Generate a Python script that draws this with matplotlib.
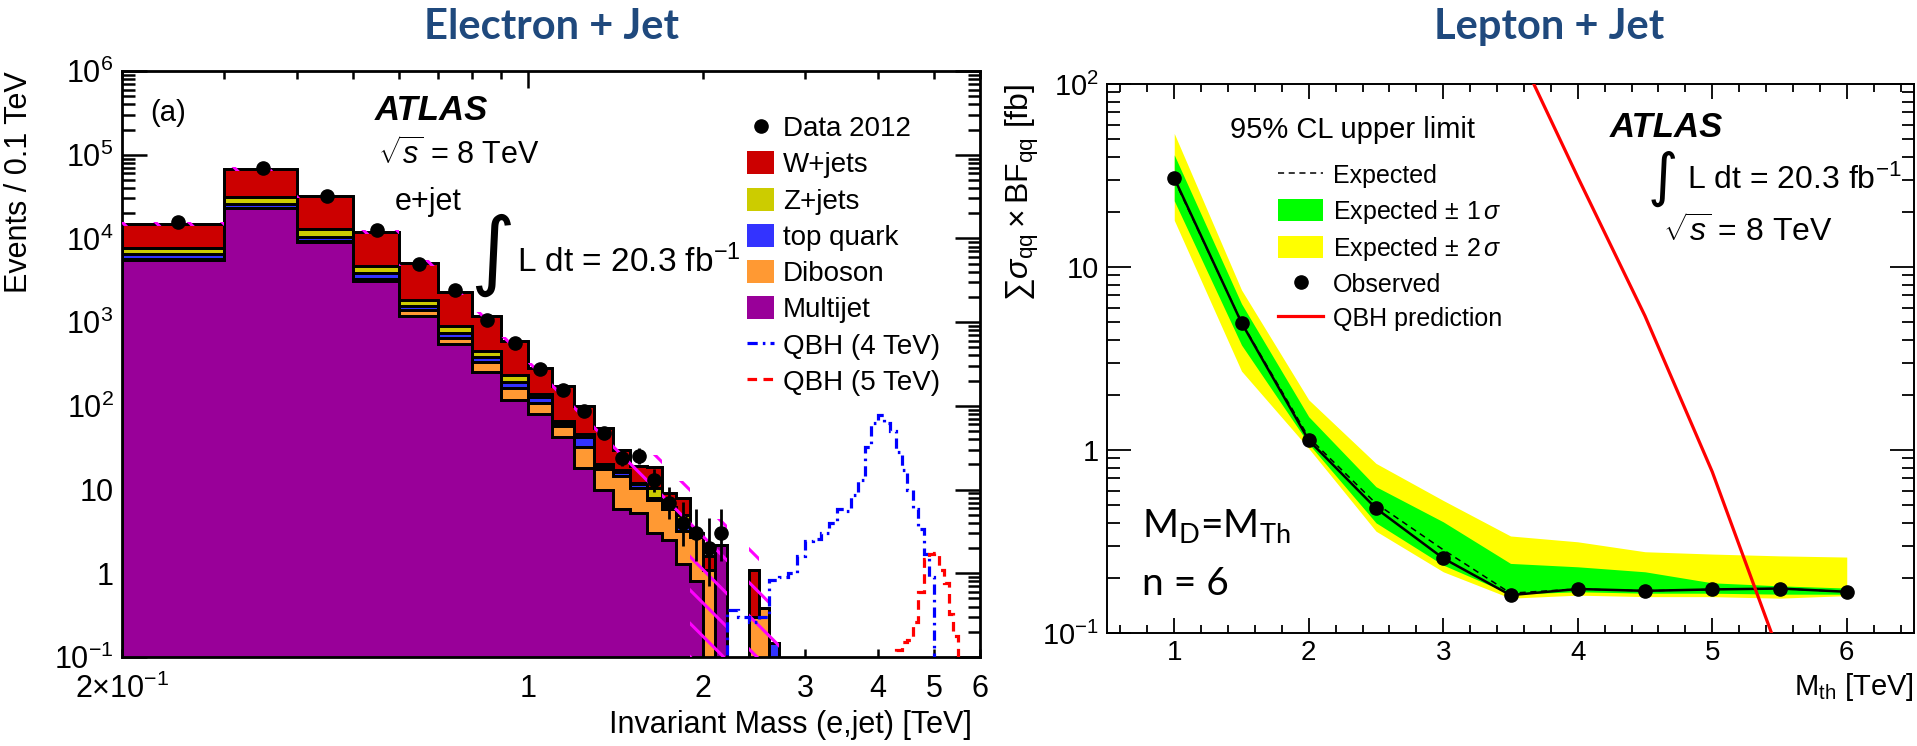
import numpy as np
import matplotlib.pyplot as plt
from matplotlib.ticker import FixedLocator, FixedFormatter, FuncFormatter, MultipleLocator, LogLocator, NullFormatter
from matplotlib.patches import Patch
from matplotlib.lines import Line2D

plt.rcParams['font.family'] = ['Liberation Sans', 'DejaVu Sans']
plt.rcParams['mathtext.fontset'] = 'custom'
plt.rcParams['mathtext.rm'] = 'Liberation Sans'
plt.rcParams['mathtext.it'] = 'Liberation Sans:italic'
plt.rcParams['mathtext.bf'] = 'Liberation Sans:bold'
plt.rcParams['hatch.linewidth'] = 2.2

# ---- electron + jet invariant mass, 0.1 TeV bins from 0.2 to 2.7 TeV ----
mass_edges = [0.2, 0.3, 0.4, 0.5, 0.6, 0.7, 0.8, 0.9, 1.0, 1.1, 1.2, 1.3, 1.4,
              1.5, 1.6, 1.7, 1.8, 1.9, 2.0, 2.1, 2.2, 2.3, 2.4, 2.5, 2.6, 2.7]
multijet = [5600, 23000, 9100, 3100, 1200, 550, 257, 117, 81, 42, 18, 10, 5.8,
            5.2, 3.0, 2.5, 1.3, 0.8, 0, 2.2, 0, 0, 0, 0, 0]
diboson = [50, 300, 200, 200, 200, 100, 73, 45, 26, 15, 14, 7.5, 8.7,
           5.3, 4.6, 3.3, 1.9, 1.95, 1.1, 0, 0, 0, 0.3, 0.38, 0]
top_quark = [950, 2700, 1200, 600, 150, 100, 50, 33, 22, 6, 10, 1.5, 1.8,
             1.0, 0.4, 0.2, 0.8, 0.05, 0, 0, 0, 0, 0, 0, 0.145]
z_jets = [1000, 5000, 2300, 800, 300, 140, 70, 39, 11, 3, 4, 1.0, 0.7,
          0.5, 2.5, 0.2, 1.0, 0.05, 0, 0, 0, 0, 0, 0, 0]
w_jets = [7400, 37000, 19200, 7300, 3250, 1410, 750, 366, 142, 109, 54, 35, 13,
          7, 8, 2.8, 3.0, 0.15, 0.5, 0, 0, 0, 0.8, 0, 0]
# relative systematic uncertainty on the total background
bkg_unc = [0.05, 0.05, 0.05, 0.06, 0.07, 0.08, 0.1, 0.12, 0.15, 0.18, 0.22, 0.28, 0.4,
           0.35, 0.4, 0.5, 0.6, 1.0, 1.0, 1.0, 0, 0, 1.0, 1.0, 1.0]

data_mass = [0.25, 0.35, 0.45, 0.55, 0.65, 0.75, 0.85, 0.95, 1.05, 1.15, 1.25, 1.35,
             1.45, 1.55, 1.65, 1.75, 1.85, 1.95, 2.05, 2.15]
data_events = [15500, 69000, 32000, 12500, 5000, 2400, 1070, 570, 279, 155, 88, 48,
               24, 25, 13, 7, 4, 3, 2, 3]
data_err_lo = [124, 263, 179, 112, 71, 49, 33, 24, 17, 12, 9.4, 6.9,
               4.9, 5.0, 3.6, 2.6, 1.9, 1.6, 1.3, 1.6]
data_err_hi = [124, 263, 179, 112, 71, 49, 33, 24, 17, 12, 9.4, 6.9,
               5.9, 6.0, 4.7, 3.8, 3.2, 2.9, 2.6, 2.9]

qbh_edges = [2.2, 2.3, 2.4, 2.5, 2.6, 2.7, 2.8, 2.9, 3.0, 3.1, 3.2, 3.3, 3.4, 3.5,
             3.6, 3.7, 3.8, 3.9, 4.0, 4.1, 4.2, 4.3, 4.4, 4.5, 4.6, 4.7, 4.8, 4.9,
             5.0, 5.1, 5.2, 5.3, 5.4, 5.5, 5.6, 5.7, 5.8]
qbh_4tev = [0.36, 0.30, 0.26, 0.30, 0.83, 0.9, 1.0, 1.6, 2.4, 2.6, 3.0, 4.0, 5.8, 5.5,
            8.7, 13, 32, 63, 78, 63, 50, 28, 17, 10, 5.8, 3.4, 1.7, 0.9,
            0, 0, 0, 0, 0, 0, 0, 0]
qbh_5tev = [0, 0, 0, 0, 0, 0, 0, 0, 0, 0, 0, 0, 0, 0,
            0, 0, 0, 0, 0, 0, 0, 0.12, 0.15, 0.16, 0.26, 0.6, 1.5, 1.7,
            1.75, 1.1, 0.77, 0.33, 0.18, 0, 0, 0]

# ---- lepton + jet limits ----
m_th = [1, 1.5, 2, 2.5, 3, 3.5, 4, 4.5, 5, 5.5, 6]
observed = [30.6, 4.96, 1.13, 0.48, 0.256, 0.161, 0.174, 0.170, 0.173, 0.175, 0.168]
expected = [30.0, 5.0, 1.17, 0.51, 0.285, 0.165, 0.174, 0.170, 0.173, 0.175, 0.168]
exp_up1 = [41, 6.3, 1.52, 0.63, 0.405, 0.24, 0.23, 0.216, 0.188, 0.181, 0.176]
exp_dn1 = [23, 3.75, 1.08, 0.40, 0.235, 0.163, 0.168, 0.165, 0.165, 0.163, 0.163]
exp_up2 = [53.7, 7.5, 1.88, 0.845, 0.53, 0.339, 0.315, 0.278, 0.27, 0.264, 0.26]
exp_dn2 = [18, 2.7, 1.02, 0.36, 0.216, 0.155, 0.161, 0.158, 0.158, 0.155, 0.16]
qbh_mth = [3.5, 4.0, 4.5, 5.0, 5.5]
qbh_xsec = [186, 31, 5.4, 0.76, 0.076]

title_color = '#1f497d'
c_w, c_z, c_top, c_db, c_mj = '#cc0000', '#cccc00', '#3333ff', '#ff9933', '#990099'


def root_log_label(v, pos):
    e = int(round(np.log10(v)))
    if e == 0:
        return '1'
    if e == 1:
        return '10'
    return r'$10^{%d}$' % e


fig = plt.figure(figsize=(19.17, 7.46), dpi=100)
W, H = 1917, 746

# ================= left: Electron + Jet =================
ax = fig.add_axes([122 / W, 1 - 657 / H, 858 / W, 586 / H])
ax.set_xscale('log')
ax.set_yscale('log')

layers = [multijet, diboson, top_quark, z_jets, w_jets]
colors = [c_mj, c_db, c_top, c_z, c_w]
cum = np.cumsum(np.array(layers, dtype=float), axis=0)
# top of the stack first, lower layers painted over it
for k in range(len(layers) - 1, -1, -1):
    vals = np.where(cum[k] > 0, cum[k], 1e-4)
    ax.stairs(vals, mass_edges, baseline=1e-4, fill=True, facecolor=colors[k],
              edgecolor='black', linewidth=2.0, zorder=2)
# outlines of each layer
for k in range(len(layers) - 1, -1, -1):
    vals = np.where(cum[k] > 0, cum[k], 1e-4)
    ax.stairs(vals, mass_edges, baseline=1e-4, fill=False, edgecolor='black',
              linewidth=2.0, zorder=3)

total = cum[-1]
unc = np.array(bkg_unc)
band_hi = np.maximum(total * (1 + unc), 1e-4)
band_lo = np.maximum(total * (1 - unc), 1e-4)
ax.stairs(band_hi, mass_edges, baseline=band_lo, fill=True, facecolor='none',
          edgecolor='#ff00ff', hatch='\\', linewidth=0, zorder=4)

ax.stairs(qbh_4tev, qbh_edges, color='#0000ff', linewidth=2.3,
          linestyle=(0, (3.2, 1.6, 0.8, 1.6)), zorder=5)
ax.stairs(qbh_5tev, qbh_edges, color='#ff0000', linewidth=2.3,
          linestyle=(0, (3.0, 2.0)), zorder=5)

ax.errorbar(data_mass, data_events, yerr=[data_err_lo, data_err_hi], fmt='o',
            color='black', ms=9.5, elinewidth=2, capsize=0, zorder=6)

ax.set_xlim(0.2, 6.0)
ax.set_ylim(0.1, 1e6)

ax.xaxis.set_major_locator(FixedLocator([1]))
ax.xaxis.set_major_formatter(FixedFormatter(['1']))
minor_x = [0.2, 0.3, 0.4, 0.5, 0.6, 0.7, 0.8, 0.9, 2, 3, 4, 5, 6]
minor_lbl = [r'2$\times$10$^{-1}$', '', '', '', '', '', '', '', '2', '3', '4', '5', '6']
ax.xaxis.set_minor_locator(FixedLocator(minor_x))
ax.xaxis.set_minor_formatter(FixedFormatter(minor_lbl))
ax.yaxis.set_major_locator(LogLocator(base=10, numticks=20))
ax.yaxis.set_major_formatter(FuncFormatter(root_log_label))
ax.yaxis.set_minor_locator(LogLocator(base=10, subs=np.arange(2, 10), numticks=20))
ax.yaxis.set_minor_formatter(NullFormatter())

ax.tick_params(which='both', direction='in', top=True, right=True, width=1.8,
               labelsize=22)
ax.tick_params(axis='y', which='major', length=18, pad=6)
ax.tick_params(axis='y', which='minor', length=9)
ax.tick_params(axis='x', which='major', length=12, pad=12)
ax.tick_params(axis='x', which='minor', length=6, pad=12)
for s in ax.spines.values():
    s.set_linewidth(2)

ax.set_ylabel('Events / 0.1 TeV', fontsize=22, loc='top')
ax.yaxis.set_label_coords(-0.103, 1.0)
ax.set_xlabel('Invariant Mass (e,jet) [TeV]', fontsize=22, loc='right')
ax.xaxis.set_label_coords(0.991, -0.09)

ax.text(0.033, 0.928, '(a)', transform=ax.transAxes, fontsize=21, va='center')
ax.text(0.295, 0.933, 'ATLAS', transform=ax.transAxes, fontsize=25,
        fontweight='bold', fontstyle='italic', va='center')
ax.text(0.298, 0.857, r'$\sqrt{s}$ = 8 TeV', transform=ax.transAxes, fontsize=22, va='center')
ax.text(0.318, 0.776, 'e+jet', transform=ax.transAxes, fontsize=22, va='center')
ax.text(0.432, 0.686, '\u222b', transform=ax.transAxes, fontsize=62, va='center',
        ha='center', family='DejaVu Sans')
ax.text(0.460, 0.674, r'L dt = 20.3 fb$^{-1}$', transform=ax.transAxes, fontsize=24,
        va='center')

handles = [
    Line2D([], [], marker='o', color='black', ls='none', ms=9.5),
    Patch(facecolor=c_w, edgecolor='none'),
    Patch(facecolor=c_z, edgecolor='none'),
    Patch(facecolor=c_top, edgecolor='none'),
    Patch(facecolor=c_db, edgecolor='none'),
    Patch(facecolor=c_mj, edgecolor='none'),
    Line2D([], [], color='#0000ff', lw=2.3, linestyle=(0, (3.2, 1.6, 0.8, 1.6))),
    Line2D([], [], color='#ff0000', lw=2.3, linestyle=(0, (3.0, 2.0))),
]
labels = ['Data 2012', 'W+jets', 'Z+jets', 'top quark', 'Diboson', 'Multijet',
          'QBH (4 TeV)', 'QBH (5 TeV)']
ax.legend(handles, labels, loc='upper left', bbox_to_anchor=(0.728, 0.925),
          frameon=False, fontsize=20, handlelength=1.0, handleheight=0.9,
          handletextpad=0.3, labelspacing=0.33, borderpad=0, borderaxespad=0)

# ================= right: Lepton + Jet =================
ax2 = fig.add_axes([1107 / W, 1 - 633 / H, 807 / W, 549 / H])
ax2.set_yscale('log')
ax2.fill_between(m_th, exp_dn2, exp_up2, color='#ffff00', lw=0, zorder=1)
ax2.fill_between(m_th, exp_dn1, exp_up1, color='#00ff00', lw=0, zorder=2)
ax2.plot(m_th, expected, color='black', lw=1.1, ls=(0, (4, 3)), zorder=3)
ax2.plot(m_th, observed, color='black', lw=1.8, marker='o', ms=9.5, zorder=4)
ax2.plot(qbh_mth, qbh_xsec, color='#ff0000', lw=2.3, zorder=5)

ax2.set_xlim(0.5, 6.5)
ax2.set_ylim(0.1, 100)
ax2.xaxis.set_major_locator(MultipleLocator(1))
ax2.xaxis.set_minor_locator(MultipleLocator(0.2))
ax2.yaxis.set_major_locator(LogLocator(base=10, numticks=10))
ax2.yaxis.set_major_formatter(FuncFormatter(root_log_label))
ax2.yaxis.set_minor_locator(LogLocator(base=10, subs=np.arange(2, 10), numticks=10))
ax2.yaxis.set_minor_formatter(NullFormatter())
ax2.tick_params(which='both', direction='in', top=True, right=True, width=1.3)
ax2.tick_params(axis='y', which='major', length=17, pad=6, labelsize=21)
ax2.tick_params(axis='y', which='minor', length=9)
ax2.tick_params(axis='x', which='major', length=11, pad=5, labelsize=20)
ax2.tick_params(axis='x', which='minor', length=6)
for s in ax2.spines.values():
    s.set_linewidth(1.4)

ax2.set_ylabel(r'$\sum\sigma_{\mathregular{qq}}\times\mathregular{BF}_{\mathregular{qq}}$ [fb]',
               fontsize=23, loc='top')
ax2.yaxis.set_label_coords(-0.082, 1.0)
ax2.set_xlabel(r'M$_{\rm th}$ [TeV]', fontsize=21, loc='right')
ax2.xaxis.set_label_coords(1.0, -0.07)

ax2.text(0.152, 0.916, '95% CL upper limit', transform=ax2.transAxes, fontsize=21,
         va='center')
ax2.text(0.623, 0.921, 'ATLAS', transform=ax2.transAxes, fontsize=25,
         fontweight='bold', fontstyle='italic', va='center')
ax2.text(0.689, 0.827, '\u222b', transform=ax2.transAxes, fontsize=42, va='center',
         ha='center', family='DejaVu Sans')
ax2.text(0.719, 0.825, r'L dt = 20.3 fb$^{-1}$', transform=ax2.transAxes, fontsize=23,
         va='center')
ax2.text(0.689, 0.730, r'$\sqrt{s}$ = 8 TeV', transform=ax2.transAxes, fontsize=23,
         va='center')
ax2.text(0.043, 0.173, r'M$_\mathregular{D}$=M$_\mathregular{Th}$', transform=ax2.transAxes,
         fontsize=28, family='Lato', va='baseline')
ax2.text(0.043, 0.069, 'n = 6', transform=ax2.transAxes, fontsize=28, family='Lato',
         va='baseline')

handles2 = [
    Line2D([], [], color='black', lw=1.1, ls=(0, (4, 3))),
    Patch(facecolor='#00ff00', edgecolor='none'),
    Patch(facecolor='#ffff00', edgecolor='none'),
    Line2D([], [], marker='o', color='black', ls='none', ms=9.5),
    Line2D([], [], color='#ff0000', lw=2.3),
]
labels2 = ['Expected', r'Expected$\,\pm\,$1$\,\sigma$', r'Expected$\,\pm\,$2$\,\sigma$',
           'Observed', 'QBH prediction']
ax2.legend(handles2, labels2, loc='upper left', bbox_to_anchor=(0.212, 0.855),
           frameon=False, fontsize=18, handlelength=1.8, handleheight=1.0,
           handletextpad=0.4, labelspacing=0.37, borderpad=0, borderaxespad=0)

fig.text(552 / W, 1 - 27 / H, 'Electron + Jet', ha='center', va='center', fontsize=30,
         fontweight='bold', color=title_color, family='Lato')
fig.text(1549 / W, 1 - 27 / H, 'Lepton + Jet', ha='center', va='center', fontsize=30,
         fontweight='bold', color=title_color, family='Lato')

fig.savefig('out.png', dpi=100)
